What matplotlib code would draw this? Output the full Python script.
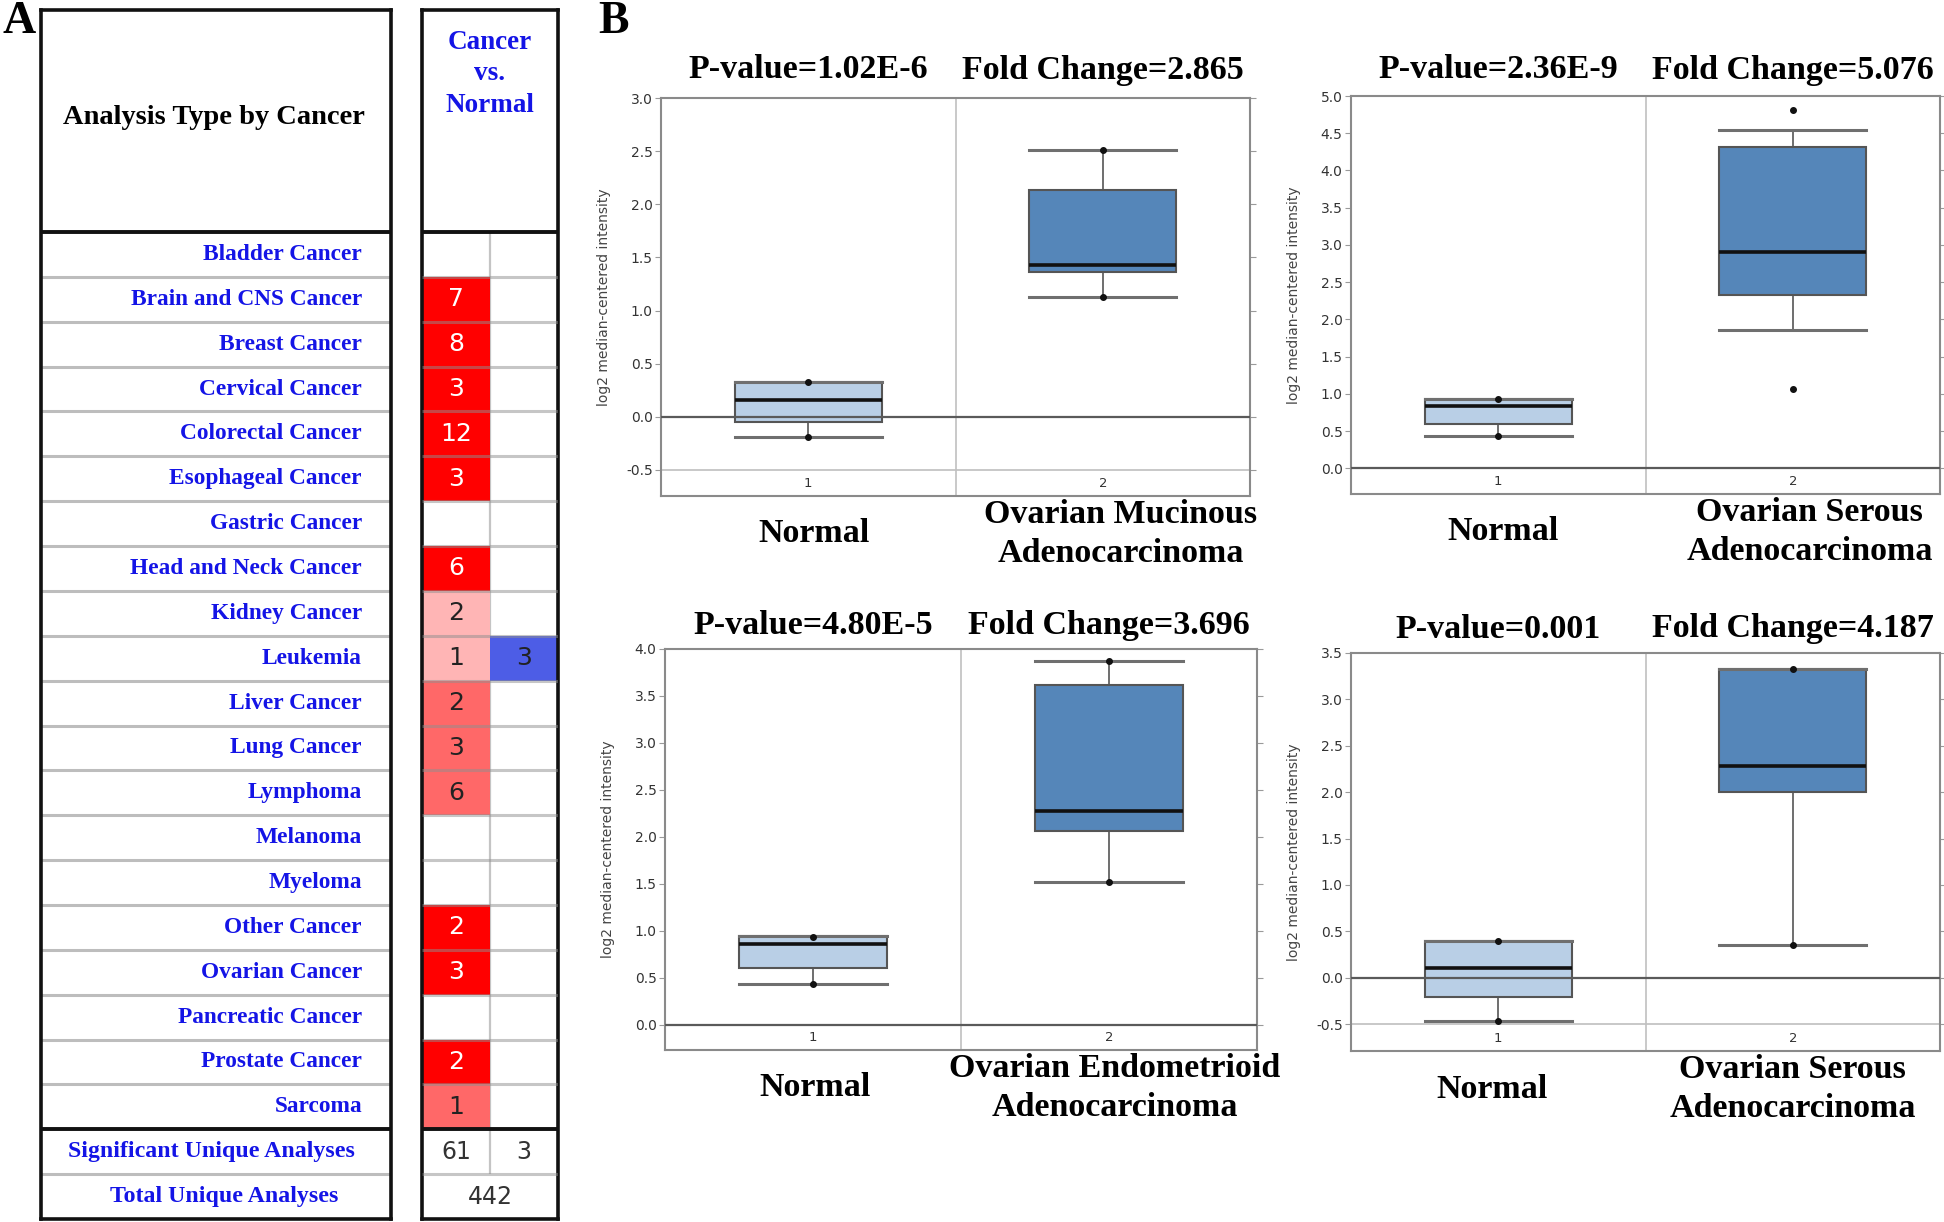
import matplotlib
matplotlib.use("Agg")
import matplotlib.pyplot as plt
import numpy as np

W, H = 1944, 1222
DPI = 100

# ---------------- Panel A data ----------------
cancer_types = ["Bladder Cancer", "Brain and CNS Cancer", "Breast Cancer", "Cervical Cancer",
                "Colorectal Cancer", "Esophageal Cancer", "Gastric Cancer", "Head and Neck Cancer",
                "Kidney Cancer", "Leukemia", "Liver Cancer", "Lung Cancer", "Lymphoma",
                "Melanoma", "Myeloma", "Other Cancer", "Ovarian Cancer", "Pancreatic Cancer",
                "Prostate Cancer", "Sarcoma"]
up_counts = [None, 7, 8, 3, 12, 3, None, 6, 2, 1, 2, 3, 6, None, None, 2, 3, None, 2, 1]
up_levels = [0, 3, 3, 3, 3, 3, 0, 3, 1, 1, 2, 2, 2, 0, 0, 3, 3, 0, 3, 2]
down_counts = [None, None, None, None, None, None, None, None, None, 3,
               None, None, None, None, None, None, None, None, None, None]
summary_labels = ["Significant Unique Analyses", "Total Unique Analyses"]
significant_up = 61
significant_down = 3
total_analyses = 442
header_left = "Analysis Type by Cancer"
header_right = "Cancer\nvs.\nNormal"

# ---------------- Panel B data ----------------
normal_label = "Normal"
cancer_labels = ["Ovarian Mucinous\nAdenocarcinoma", "Ovarian Serous\nAdenocarcinoma",
                 "Ovarian Endometrioid\nAdenocarcinoma", "Ovarian Serous\nAdenocarcinoma"]
p_values = ["1.02E-6", "2.36E-9", "4.80E-5", "0.001"]
fold_changes = ["2.865", "5.076", "3.696", "4.187"]
# [whislo, q1, median, q3, whishi]
normal_stats = [[-0.19, -0.05, 0.16, 0.33, 0.33],
                [0.43, 0.59, 0.84, 0.93, 0.93],
                [0.43, 0.60, 0.86, 0.94, 0.94],
                [-0.47, -0.21, 0.10, 0.40, 0.40]]
cancer_stats = [[1.13, 1.36, 1.43, 2.13, 2.51],
                [1.86, 2.33, 2.90, 4.31, 4.55],
                [1.52, 2.06, 2.28, 3.62, 3.87],
                [0.35, 2.00, 2.28, 3.33, 3.33]]
normal_minmax = [[-0.19, 0.33], [0.43, 0.93], [0.43, 0.93], [-0.47, 0.40]]
cancer_minmax = [[1.13, 2.51], [1.07, 4.81], [1.52, 3.87], [0.35, 3.33]]
y_ranges = [(-0.745, 3.0), (-0.345, 5.0), (-0.27, 4.0), (-0.79, 3.5)]
y_labels = "log2 median-centered intensity"

# ---------------- styles ----------------
SERIF = "Liberation Serif"
BLUE_TXT = "#1414e6"
level_colors = {1: "#ffb5b5", 2: "#ff6868", 3: "#ff0000"}
down_color = "#4d5de6"
normal_face = "#b9cfe6"
cancer_face = "#5586b9"

fig = plt.figure(figsize=(W / DPI, H / DPI), dpi=DPI)


def rect(l, t, r, b):
    return [l / W, 1 - b / H, (r - l) / W, (b - t) / H]


n = len(cancer_types)
row_px = (1219 - 232) / (n + 2)
header_units = (232 - 10) / row_px

# ---------- left table ----------
axL = fig.add_axes(rect(41, 10, 391, 1219))
axL.set_xlim(0, 1)
axL.set_ylim(n + 2, -header_units)
axL.set_xticks([]); axL.set_yticks([])
for s in axL.spines.values():
    s.set_linewidth(2.6); s.set_color("#111")
axL.hlines([i for i in range(1, n)] + [n + 1], 0, 1, colors="#bdbdbd", lw=2.2, zorder=2)
axL.hlines([0, n], 0, 1, colors="#111", lw=2.8, zorder=3)
axL.text(0.494, (117 - 232) / row_px, header_left, ha="center", va="center",
         fontsize=20.5, fontweight="bold", family=SERIF, color="black")
for i, name in enumerate(cancer_types):
    axL.text(0.917, i + 0.5, name, ha="right", va="center", fontsize=16.8,
             fontweight="bold", family=SERIF, color=BLUE_TXT)
axL.text(0.486, n + 0.5, summary_labels[0], ha="center", va="center", fontsize=17.2,
         fontweight="bold", family=SERIF, color=BLUE_TXT)
axL.text(0.523, n + 1.5, summary_labels[1], ha="center", va="center", fontsize=17.2,
         fontweight="bold", family=SERIF, color=BLUE_TXT)

# ---------- right table ----------
axR = fig.add_axes(rect(422, 10, 558, 1219))
axR.set_xlim(0, 2)
axR.set_ylim(n + 2, -header_units)
axR.set_xticks([]); axR.set_yticks([])
for s in axR.spines.values():
    s.set_linewidth(2.6); s.set_color("#111")
axR.vlines(1, 0, n + 1, colors="#c4c4c4", lw=1.6, zorder=1)
rows_up = [i for i, c in enumerate(up_counts) if c is not None]
axR.barh([i + 0.5 for i in rows_up], [1] * len(rows_up), left=0, height=1,
         color=[level_colors[up_levels[i]] for i in rows_up], zorder=2)
rows_dn = [i for i, c in enumerate(down_counts) if c is not None]
axR.barh([i + 0.5 for i in rows_dn], [1] * len(rows_dn), left=1, height=1,
         color=down_color, zorder=2)
axR.hlines([i for i in range(1, n)] + [n + 1], 0, 2, colors="#8f8f8f", alpha=0.5, lw=2.2, zorder=3)
axR.hlines([0, n], 0, 2, colors="#111", lw=2.8, zorder=4)
for i in rows_up:
    axR.text(0.5, i + 0.5, str(up_counts[i]), ha="center", va="center", fontsize=18,
             color="white" if up_levels[i] == 3 else "#222", zorder=5)
for i in rows_dn:
    axR.text(1.5, i + 0.5, str(down_counts[i]), ha="center", va="center", fontsize=18,
             color="#222", zorder=5)
axR.text(1.0, (74 - 232) / row_px, header_right, ha="center", va="center", fontsize=19.5,
         fontweight="bold", family=SERIF, color=BLUE_TXT, linespacing=1.32)
axR.text(0.5, n + 0.5, str(significant_up), ha="center", va="center", fontsize=17, color="#333")
axR.text(1.5, n + 0.5, str(significant_down), ha="center", va="center", fontsize=17, color="#333")
axR.text(1.0, n + 1.5, str(total_analyses), ha="center", va="center", fontsize=17, color="#333")

fig.text(2 / W, 1 - 1 / H, "A", ha="left", va="top", fontsize=33, fontweight="bold", family=SERIF)
fig.text(598 / W, 1 - 1 / H, "B", ha="left", va="top", fontsize=33, fontweight="bold", family=SERIF)

# ---------- Panel B box plots ----------
ax_rects = [rect(661, 98, 1250, 496), rect(1351, 96, 1940, 494),
            rect(665, 649, 1257, 1050), rect(1351, 653, 1940, 1051)]
title_off_px = [28, 26, 23, 24]
cancer_dx_px = [18, 17, 6, 0]
normal_dx_px = [6, 5, 2, -6]

for k, r in enumerate(ax_rects):
    ax = fig.add_axes(r)
    stats = []
    for s, mm in ((normal_stats[k], normal_minmax[k]), (cancer_stats[k], cancer_minmax[k])):
        stats.append(dict(whislo=s[0], q1=s[1], med=s[2], q3=s[3], whishi=s[4],
                          fliers=np.array(mm)))
    bp = ax.bxp(stats, positions=[1, 2], widths=0.5, capwidths=0.5, patch_artist=True,
                showfliers=True, manage_ticks=False,
                boxprops=dict(edgecolor="#555555", linewidth=1.5),
                whiskerprops=dict(color="#555555", linewidth=1.2),
                capprops=dict(color="#6f6f6f", linewidth=2.2),
                medianprops=dict(color="#111111", linewidth=2.6),
                flierprops=dict(marker="o", markerfacecolor="#111", markeredgecolor="#111",
                                markersize=4, linestyle="none"))
    bp["boxes"][0].set_facecolor(normal_face)
    bp["boxes"][1].set_facecolor(cancer_face)
    for b in bp["boxes"]:
        b.set_zorder(2)
    for m in bp["medians"]:
        m.set_zorder(5)
    ax.set_xlim(0.5, 2.5)
    ax.set_ylim(*y_ranges[k])
    ax.axhline(0, color="#5a5a5a", lw=1.6, zorder=4)
    if y_ranges[k][0] < -0.5:
        ax.axhline(-0.5, color="#c8c8c8", lw=1.4, zorder=1)
    ax.axvline(1.5, color="#c0c0c0", lw=1.2, zorder=1)
    for s in ax.spines.values():
        s.set_color("#8a8a8a"); s.set_linewidth(1.5)
    lo, hi = y_ranges[k]
    ticks = np.arange(np.ceil(lo * 2) / 2, hi + 0.001, 0.5)
    ax.set_yticks(ticks)
    ax.set_yticklabels([f"{round(t, 1) + 0.0:.1f}" for t in ticks])
    ax.tick_params(axis="y", left=True, right=True, direction="out", length=4,
                   color="#9a9a9a", labelsize=10, labelcolor="#333", pad=2)
    ax.set_xticks([1, 2])
    ax.set_xticklabels(["1", "2"])
    ax.tick_params(axis="x", length=0, pad=-14, labelsize=9.5, labelcolor="#333")
    ax.set_ylabel(y_labels, fontsize=10, color="#444")
    ax.yaxis.set_label_coords(-0.085, 0.5)

    off = title_off_px[k] * 72 / DPI
    ax.annotate(f"P-value={p_values[k]}", xy=(1, 1), xycoords=("data", "axes fraction"),
                xytext=(0, off), textcoords="offset points", ha="center", va="center",
                fontsize=24.5, fontweight="bold", family=SERIF, annotation_clip=False)
    ax.annotate(f"Fold Change={fold_changes[k]}", xy=(2, 1), xycoords=("data", "axes fraction"),
                xytext=(0, off), textcoords="offset points", ha="center", va="center",
                fontsize=24.5, fontweight="bold", family=SERIF, annotation_clip=False)
    ax.annotate(normal_label, xy=(1, 0), xycoords=("data", "axes fraction"),
                xytext=(normal_dx_px[k] * 0.72, -38 * 0.72), textcoords="offset points",
                ha="center", va="center", fontsize=24.5, fontweight="bold", family=SERIF,
                annotation_clip=False)
    ax.annotate(cancer_labels[k], xy=(2, 0), xycoords=("data", "axes fraction"),
                xytext=(cancer_dx_px[k] * 0.72, -38 * 0.72), textcoords="offset points",
                ha="center", va="center", fontsize=24.5, fontweight="bold", family=SERIF,
                linespacing=1.3, annotation_clip=False)

fig.savefig("out.png", dpi=DPI)
